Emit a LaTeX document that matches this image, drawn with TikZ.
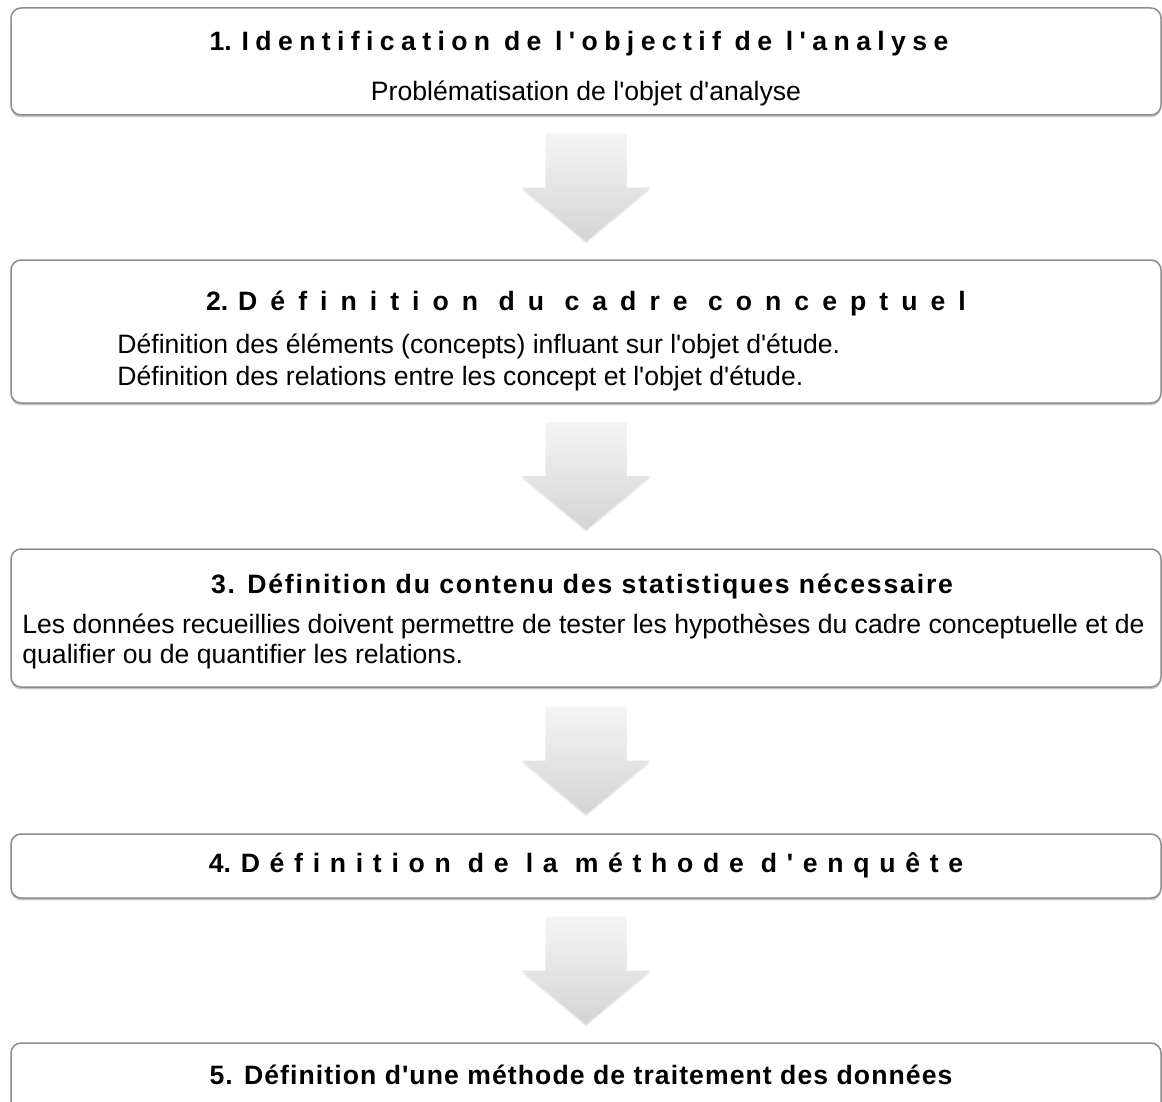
\documentclass[tikz,border=0pt]{standalone}
\usepackage{fontspec}
\setmainfont{Liberation Sans}[Ligatures=TeXOff]
\usetikzlibrary{shapes,arrows,positioning,shadows,calc}

\newcommand{\espacer}[2]{{\addfontfeatures{LetterSpace=#1}#2}}

\begin{document}
\begin{tikzpicture}[x=0.5pt,y=-0.5pt,
  etape/.style={draw=black!45, line width=0.75pt, rounded corners=5pt, fill=white,
    minimum width=575pt, inner sep=0pt,
    drop shadow={shadow xshift=0pt, shadow yshift=-1.2pt, opacity=0.3, fill=black!70}},
  titre/.style={font=\fontsize{13.3pt}{16pt}\selectfont\bfseries, anchor=base, inner sep=0pt},
  texte/.style={font=\fontsize{13.3pt}{16pt}\selectfont, anchor=base west, inner sep=0pt},
  fleche/.style={top color=black!4, bottom color=black!17,
    drop shadow={shadow xshift=0pt, shadow yshift=-1pt, opacity=0.15}}]

\useasboundingbox (0,0) rectangle (1162,1102);

% Cadres
\node[etape, minimum height=53.5pt] (e1) at (586,61.5) {};
\node[etape, minimum height=71.5pt] (e2) at (586,331.5) {};
\node[etape, minimum height=69pt] (e3) at (586,618) {};
\node[etape, minimum height=32pt] (e4) at (586,866) {};
\node[etape, minimum height=65pt] (e5) at (586,1108) {};

% Fleches
\foreach \a/\b in {e1/e2,e2/e3,e3/e4,e4/e5}{
  \coordinate (m-\a) at ($(\a.south)!0.5!(\b.north)$);
  \path[fleche] (m-\a) +(-20.25pt,27pt) -- +(20.25pt,27pt) -- +(20.25pt,0pt)
    -- +(32.25pt,0pt) -- +(0pt,-27pt) -- +(-32.25pt,0pt) -- +(-20.25pt,0pt) -- cycle;
}

% Textes
\node[titre] (t1) at (579,51) {1. \espacer{24}{Identification de l'objectif de l'analyse}};
\node[titre, font=\fontsize{13.3pt}{16pt}\selectfont] (s1) at (586,101) {Problématisation de l'objet d'analyse};

\node[titre] (t2) at (586,310) {2. \espacer{49}{Définition du cadre conceptuel}};
\node[texte] (s2a) at (117,353) {Définition des éléments (concepts) influant sur l'objet d'étude.};
\node[texte] (s2b) at (117,385) {Définition des relations entre les concept et l'objet d'étude.};

\node[titre] (t3) at (582,593) {\espacer{6.9}{3. Définition du contenu des statistiques nécessaire}};
\node[texte] (s3a) at (22,633) {Les données recueillies doivent permettre de tester les hypothèses du cadre conceptuelle et de};
\node[texte] (s3b) at (22,663) {qualifier ou de quantifier les relations.};

\node[titre] (t4) at (586,872) {4. \espacer{36.5}{Définition de la méthode d'enquête}};

\node[titre] (t5) at (581,1084) {\espacer{4}{5. Définition d'une méthode de traitement des données}};
\end{tikzpicture}
\end{document}
